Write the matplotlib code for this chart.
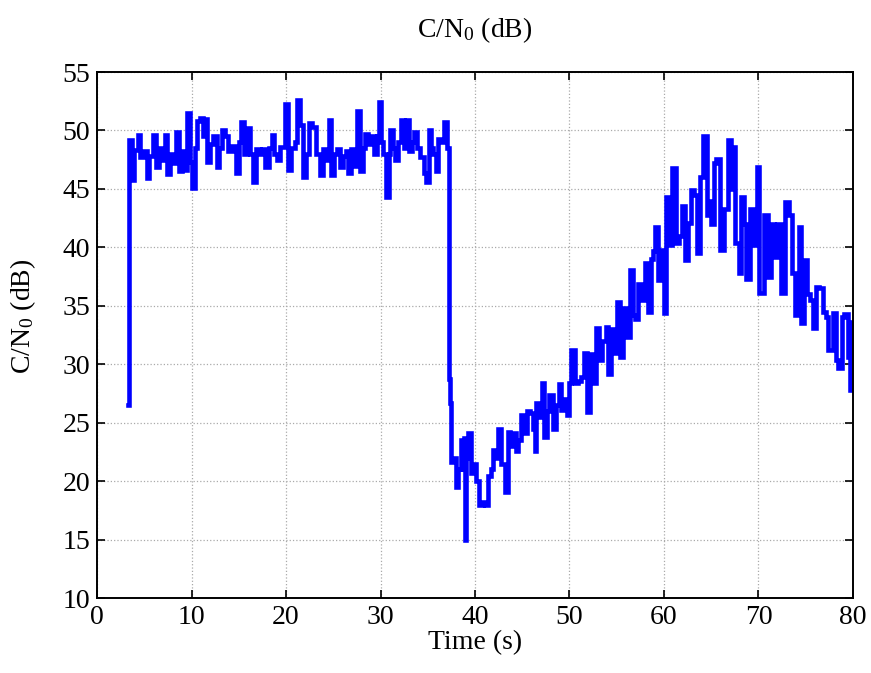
import matplotlib
matplotlib.use("Agg")
import matplotlib.pyplot as plt

plt.rcParams['font.family'] = ['Liberation Serif', 'DejaVu Serif']
plt.rcParams['mathtext.default'] = 'regular'

# Carrier-to-noise density over time (time in s, C/N0 in dB)
time_s = [
    3.30, 3.40, 3.65, 3.95, 4.30, 4.60, 4.95, 5.25, 5.55, 5.95, 6.25, 6.55, 6.85, 7.15, 7.45, 7.75,
    8.05, 8.35, 8.65, 8.95, 9.20, 9.50, 9.80, 10.05, 10.35, 10.60, 10.90, 11.20, 11.45, 11.65, 11.95,
    12.30, 12.65, 12.95, 13.25, 13.55, 13.85, 14.25, 14.75, 15.05, 15.20, 15.55, 15.85, 16.15, 16.50,
    16.85, 17.20, 17.50, 17.80, 18.15, 18.50, 18.75, 19.00, 19.35, 19.90, 20.20, 20.55, 20.90, 21.20,
    21.50, 21.75, 22.10, 22.40, 22.80, 23.15, 23.55, 23.90, 24.25, 24.50, 24.80, 25.10, 25.40, 25.70,
    26.00, 26.30, 26.60, 26.85, 27.20, 27.50, 27.80, 28.10, 28.40, 28.70, 29.00, 29.30, 29.60, 29.85,
    30.10, 30.30, 30.60, 30.85, 31.05, 31.30, 31.55, 31.85, 32.15, 32.45, 32.70, 33.00, 33.30, 33.55,
    33.90, 34.20, 34.55, 34.85, 35.10, 35.35, 35.60, 35.85, 36.10, 36.40, 36.70, 37.00, 37.20, 37.30,
    37.40, 37.50, 37.80, 37.95, 38.20, 38.50, 38.70, 38.80, 38.95, 39.10, 39.30, 39.55, 39.85, 40.15,
    40.45, 40.80, 41.05, 41.40, 41.65, 41.90, 42.20, 42.45, 42.75, 43.15, 43.45, 43.75, 44.05, 44.35,
    44.60, 44.90, 45.20, 45.50, 45.80, 46.10, 46.30, 46.50, 46.80, 47.05, 47.30, 47.60, 47.85, 48.25,
    48.55, 48.85, 49.15, 49.50, 49.70, 49.90, 50.20, 50.55, 50.85, 51.25, 51.55, 51.80, 52.15, 52.45,
    52.85, 53.15, 53.45, 53.85, 54.10, 54.40, 54.70, 55.00, 55.30, 55.65, 56.05, 56.40, 56.75, 56.95,
    57.25, 57.55, 57.95, 58.30, 58.60, 58.85, 59.10, 59.40, 59.70, 59.95, 60.20, 60.55, 60.90, 61.25,
    61.55, 61.90, 62.20, 62.55, 62.90, 63.20, 63.45, 63.80, 64.10, 64.50, 64.75, 65.00, 65.30, 65.55,
    65.90, 66.30, 66.80, 67.05, 67.30, 67.50, 67.90, 68.20, 68.45, 68.70, 69.10, 69.50, 69.85, 70.10,
    70.55, 71.00, 71.35, 71.65, 72.00, 72.40, 72.85, 73.25, 73.50, 73.90, 74.10, 74.30, 74.50, 74.85,
    75.15, 75.40, 75.75, 76.10, 76.45, 76.80, 77.15, 77.40, 77.85, 78.20, 78.45, 78.80, 79.10, 79.45,
    79.70, 79.85, 80.00,
]
cn0_db = [
    26.5, 49.2, 45.8, 48.3, 49.6, 47.7, 48.2, 45.9, 47.8, 49.6, 46.9, 48.5, 47.5, 49.6, 46.3, 48.0,
    47.2, 49.9, 46.5, 48.2, 46.6, 51.5, 47.3, 45.1, 48.5, 50.8, 51.1, 49.5, 51.0, 47.3, 48.8,
    49.5, 46.9, 48.5, 50.0, 49.5, 48.2, 48.7, 46.4, 49.0, 50.7, 48.0, 50.2, 48.0, 45.6,
    48.4, 48.0, 48.4, 46.9, 48.5, 49.6, 48.0, 47.5, 48.6, 52.3, 46.6, 48.5, 49.0, 52.6,
    50.5, 46.0, 48.0, 50.6, 50.3, 48.0, 46.2, 48.4, 47.5, 50.9, 46.2, 48.0, 48.4, 46.9,
    47.8, 48.2, 46.4, 48.4, 47.0, 51.7, 46.5, 48.5, 49.7, 48.8, 49.5, 48.0, 49.5, 52.4,
    49.0, 48.0, 44.3, 48.0, 50.0, 48.5, 47.5, 49.0, 50.9, 48.5, 50.9, 48.2, 49.0, 49.9,
    48.5, 47.7, 46.4, 45.6, 50.0, 48.5, 48.0, 46.5, 49.3, 49.0, 50.7, 48.5, 47.5, 28.7,
    26.7, 21.6, 22.0, 19.5, 21.0, 23.5, 21.0, 23.7, 15.0, 22.0, 24.1, 20.7, 21.5, 20.0,
    18.0, 18.2, 18.0, 20.4, 21.0, 22.7, 22.0, 24.5, 21.5, 19.1, 24.2, 23.0, 24.1, 22.6,
    23.5, 25.7, 24.1, 26.0, 25.8, 24.5, 22.6, 26.7, 25.5, 28.4, 23.8, 26.0, 27.4, 24.5,
    26.5, 28.3, 26.1, 27.0, 25.7, 28.4, 31.2, 28.4, 28.6, 28.9, 31.0, 25.9, 30.9, 28.4,
    33.1, 30.4, 32.0, 33.2, 29.2, 33.0, 31.0, 35.3, 30.6, 34.8, 32.3, 38.1, 34.2, 33.9,
    36.9, 35.5, 38.7, 34.5, 39.0, 39.7, 41.7, 37.2, 39.8, 34.4, 44.3, 40.2, 46.8, 40.4,
    41.0, 43.5, 38.9, 42.1, 44.9, 44.5, 39.5, 46.0, 49.5, 42.8, 44.0, 42.0, 47.2, 47.6,
    39.8, 43.3, 49.2, 45.0, 48.6, 40.4, 37.8, 44.3, 42.0, 37.3, 43.3, 40.2, 46.9, 36.1,
    42.8, 37.5, 42.0, 39.2, 42.0, 36.1, 43.9, 42.8, 37.8, 34.2, 34.4, 41.7, 33.5, 38.9,
    36.0, 35.5, 33.1, 36.6, 36.5, 34.5, 34.0, 31.2, 34.4, 30.4, 29.7, 34.0, 34.3, 30.6,
    27.8, 33.6, 28.0,
]

x_ticks = [0, 10, 20, 30, 40, 50, 60, 70, 80]
y_ticks = [10, 15, 20, 25, 30, 35, 40, 45, 50, 55]

fig = plt.figure(figsize=(8.71, 6.73), dpi=100)
ax = fig.add_axes([0.1114, 0.1114, 0.8679, 0.7816])

ax.plot(time_s, cn0_db, color='#0000ff', linewidth=3.3, drawstyle='steps-post',
        solid_joinstyle='miter')

ax.set_xlim(0, 80)
ax.set_ylim(10, 55)
ax.set_xticks(x_ticks)
ax.set_yticks(y_ticks)
ax.grid(True, linestyle=':', color='#aaaaaa', linewidth=0.9)
ax.tick_params(direction='in', top=True, right=True, labelsize=20, length=6, width=1.2, pad=5)
for sp in ax.spines.values():
    sp.set_linewidth(1.4)

ax.set_title('C/N$_0$ (dB)', fontsize=20, pad=25)
ax.set_xlabel('Time (s)', fontsize=20, labelpad=0)
ax.set_ylabel('C/N$_0$ (dB)', fontsize=20)
ax.yaxis.set_label_coords(-0.078, 0.535)

fig.savefig('out.png', dpi=100)
